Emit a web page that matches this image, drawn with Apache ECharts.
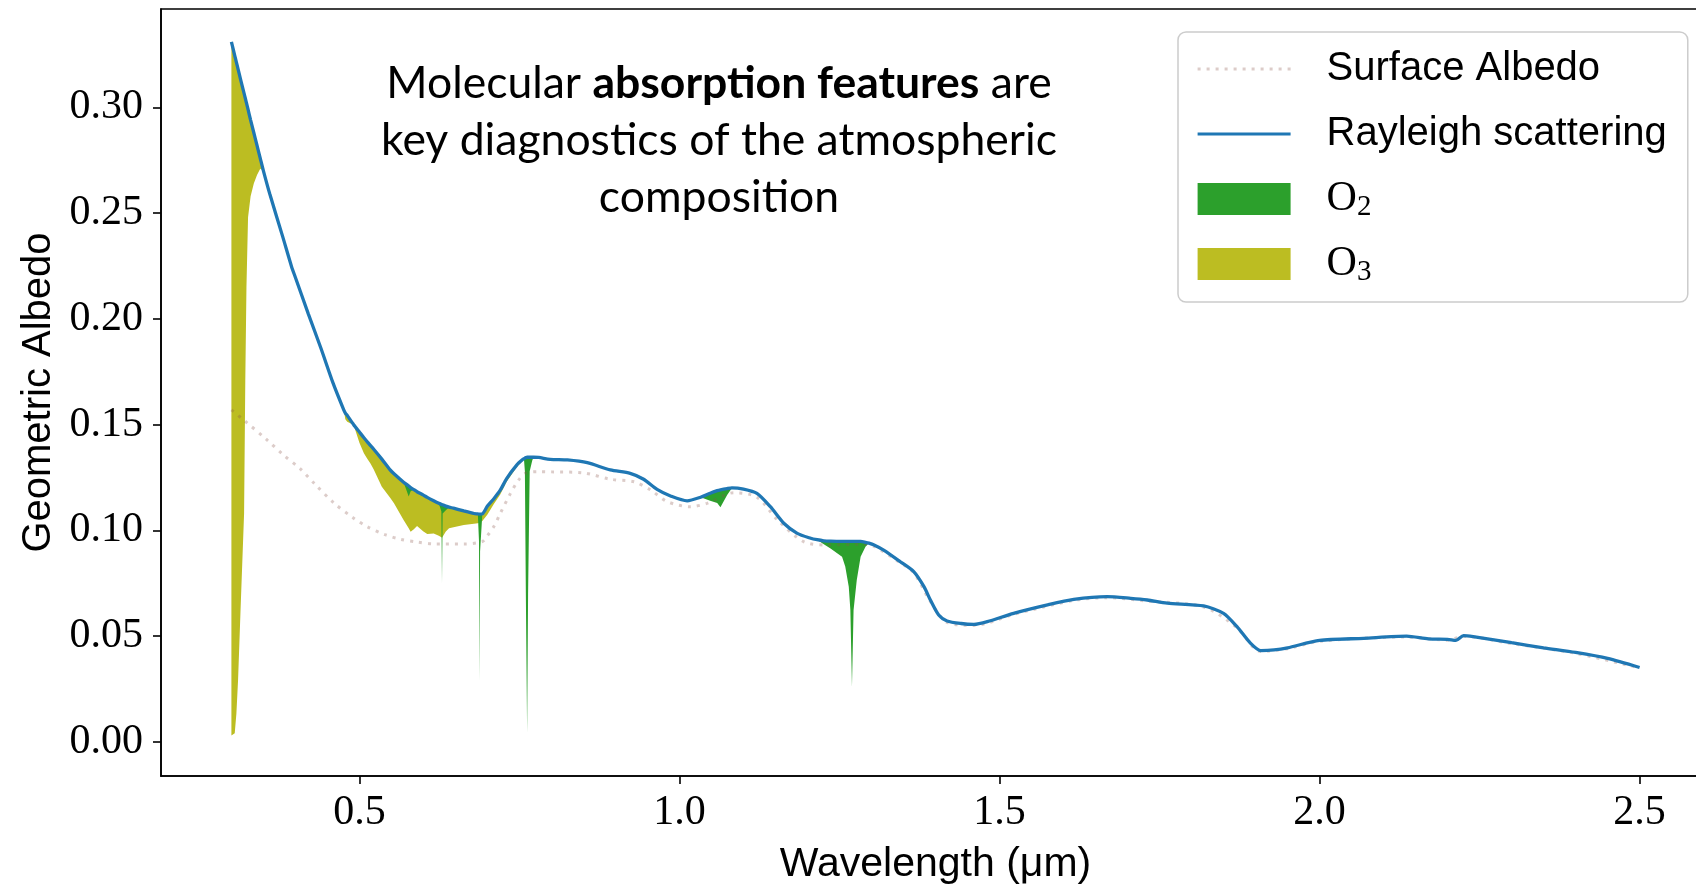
<!DOCTYPE html>
<html>
<head>
<meta charset="utf-8">
<script src="https://cdn.jsdelivr.net/npm/echarts@6/dist/echarts.min.js"></script>
<style>
  html, body { margin: 0; padding: 0; background: #ffffff; overflow: hidden; }
  #chart { width: 1720px; height: 889px; }
</style>
</head>
<body>
<div id="chart"></div>
<script>
// Wavelength grid (µm) shared by the Rayleigh continuum and the absorbed spectra
const wavelength = [
  0.300, 0.3052, 0.3078, 0.3104, 0.3141, 0.3198, 0.3217, 0.3235, 0.326, 0.330,
  0.335, 0.340, 0.345, 0.350, 0.360, 0.380, 0.394, 0.400, 0.420, 0.440,
  0.459, 0.4755, 0.478, 0.481, 0.491, 0.500, 0.507, 0.512, 0.517, 0.522,
  0.535, 0.548, 0.554, 0.569, 0.577, 0.580, 0.585, 0.590, 0.600, 0.606,
  0.616, 0.624, 0.628, 0.629, 0.630, 0.635, 0.640, 0.647, 0.663, 0.679,
  0.685, 0.6868, 0.6877, 0.6885, 0.692, 0.700, 0.710, 0.720, 0.730, 0.746,
  0.755, 0.757, 0.7585, 0.760, 0.762, 0.7635, 0.766, 0.770, 0.772, 0.780,
  0.798, 0.825, 0.856, 0.892, 0.923, 0.944, 0.965, 0.986, 1.012, 1.033,
  1.048, 1.059, 1.064, 1.0745, 1.082, 1.100, 1.121, 1.142, 1.163, 1.184,
  1.205, 1.215, 1.2255, 1.236, 1.254, 1.259, 1.2645, 1.267, 1.2695, 1.272,
  1.277, 1.283, 1.2906, 1.296, 1.304, 1.319, 1.345, 1.366, 1.382, 1.392,
  1.405, 1.418, 1.440, 1.460, 1.481, 1.522, 1.575, 1.616, 1.668, 1.705,
  1.731, 1.762, 1.819, 1.850, 1.871, 1.892, 1.908, 1.929, 1.950, 2.000,
  2.069, 2.136, 2.170, 2.200, 2.213, 2.225, 2.240, 2.300, 2.350, 2.400,
  2.450, 2.500
];

// Geometric albedo with Rayleigh scattering only
const rayleigh = [
  0.331, 0.3245, 0.3213, 0.3181, 0.3135, 0.3066, 0.3043, 0.3021, 0.299, 0.294,
  0.288, 0.282, 0.276, 0.270, 0.259, 0.239, 0.2247, 0.2196, 0.2025, 0.186,
  0.1695, 0.157, 0.1555, 0.1543, 0.150, 0.1465, 0.1438, 0.142, 0.1402, 0.1385,
  0.1337, 0.1286, 0.1268, 0.1228, 0.1210, 0.1202, 0.1193, 0.1183, 0.1167, 0.1156,
  0.1140, 0.1128, 0.1123, 0.1122, 0.1121, 0.1115, 0.1110, 0.1105, 0.1092, 0.1080,
  0.1078, 0.1077, 0.1077, 0.1077, 0.1078, 0.1115, 0.115, 0.119, 0.1245, 0.131,
  0.1335, 0.1339, 0.1342, 0.1344, 0.1346, 0.1346, 0.1346, 0.1346, 0.1346, 0.1345,
  0.1336, 0.1333, 0.1320, 0.1286, 0.1270, 0.1242, 0.1194, 0.1163, 0.1140, 0.1157,
  0.1176, 0.1188, 0.1192, 0.1198, 0.1201, 0.1195, 0.1175, 0.1112, 0.1034, 0.0986,
  0.0963, 0.0956, 0.0951, 0.0949, 0.0948, 0.0948, 0.0948, 0.0948, 0.0948, 0.0948,
  0.0948, 0.0948, 0.0944, 0.0940, 0.0931, 0.0907, 0.0852, 0.0805, 0.0734, 0.0671,
  0.0600, 0.0572, 0.0560, 0.0556, 0.0569, 0.0608, 0.0648, 0.0674, 0.0687, 0.0679,
  0.0671, 0.0656, 0.0643, 0.0608, 0.0545, 0.0467, 0.0432, 0.0435, 0.0445, 0.0480,
  0.0490, 0.0500, 0.0487, 0.0485, 0.0480, 0.0503, 0.0498, 0.0469, 0.0445, 0.0423,
  0.0395, 0.0352
];

// Albedo with O2 absorption (null outside the O2 bands)
const o2Spectrum = [
  null, null, null, null, null, null, null, null, null, null,
  null, null, null, null, null, null, null, null, null, null,
  null, null, null, null, null, null, null, null, null, null,
  null, null, null, 0.1228, 0.116, 0.1185, 0.1193, null, null, null,
  null, 0.1128, 0.109, 0.075, 0.108, 0.1095, 0.1110, null, null, null,
  0.1078, 0.095, 0.0293, 0.090, 0.1078, null, null, null, null, null,
  null, 0.1339, 0.128, 0.07, 0.0041, 0.07, 0.128, 0.133, 0.1346, null,
  null, null, null, null, null, null, null, null, null, 0.1157,
  0.114, 0.113, 0.111, 0.1167, 0.1201, null, null, null, null, null,
  null, 0.0956, 0.0935, 0.0915, 0.0876, 0.0829, 0.0734, 0.0624, 0.026, 0.0624,
  0.0766, 0.0876, 0.0923, 0.0940, null, null, null, null, null, null,
  null, null, null, null, null, null, null, null, null, null,
  null, null, null, null, null, null, null, null, null, null,
  null, null, null, null, null, null, null, null, null, null,
  null, null
];

// Albedo with O3 absorption (null outside the O3 bands)
const o3Spectrum = [
  0.003, 0.0041, 0.0135, 0.0293, 0.0608, 0.108, 0.171, 0.215, 0.248, 0.258,
  0.264, 0.268, 0.271, 0.270, null, null, null, null, null, null,
  null, 0.157, 0.1525, 0.1514, 0.1498, 0.1415, 0.1365, 0.134, 0.1317, 0.129,
  0.1207, 0.1155, 0.1128, 0.1049, 0.1010, 0.0994, 0.1005, 0.1021, 0.0995, 0.0983,
  0.0986, 0.0975, 0.0968, 0.0965, 0.097, 0.0995, 0.1010, 0.1015, 0.1026, 0.1032,
  0.1034, 0.1036, 0.1038, 0.104, 0.1045, 0.1075, 0.1125, 0.117, 0.123, 0.130,
  0.1328, 0.1339, null, null, null, null, null, null, null, null,
  null, null, null, null, null, null, null, null, null, null,
  null, null, null, null, null, null, null, null, null, null,
  null, null, null, null, null, null, null, null, null, null,
  null, null, null, null, null, null, null, null, null, null,
  null, null, null, null, null, null, null, null, null, null,
  null, null, null, null, null, null, null, null, null, null,
  null, null, null, null, null, null, null, null, null, null,
  null, null
];

// Surface albedo (own wavelength sampling)
const surfaceWavelength = [
  0.300, 0.320, 0.356, 0.380, 0.408, 0.430, 0.460, 0.490, 0.512, 0.540,
  0.564, 0.590, 0.616, 0.663, 0.692, 0.700, 0.710, 0.720, 0.736, 0.748,
  0.759, 0.780, 0.800, 0.850, 0.892, 0.929, 0.955, 0.981, 1.017, 1.043,
  1.085, 1.121, 1.153, 1.194, 1.231, 1.283, 1.304, 1.345, 1.366, 1.392,
  1.418, 1.460, 1.522, 1.616, 1.668, 1.731, 1.819, 1.871, 1.908, 1.950,
  2.000, 2.136, 2.200, 2.225, 2.300, 2.400, 2.500
];
const surfaceAlbedo = [
  0.157, 0.152, 0.1427, 0.136, 0.129, 0.122, 0.113, 0.106, 0.1018, 0.098,
  0.0958, 0.0945, 0.0936, 0.0936, 0.0947, 0.0975, 0.1018, 0.108, 0.1175, 0.1235,
  0.127, 0.1278, 0.1277, 0.1272, 0.1242, 0.1230, 0.1191, 0.1136, 0.1112, 0.1128,
  0.1178, 0.1157, 0.1050, 0.0947, 0.0931, 0.0935, 0.0924, 0.0847, 0.0800, 0.0664,
  0.0565, 0.0551, 0.0603, 0.0669, 0.0682, 0.0666, 0.0638, 0.0540, 0.0428, 0.0441,
  0.0476, 0.0496, 0.0481, 0.0499, 0.0465, 0.0419, 0.0349
];

const xTicks = [0.5, 1.0, 1.5, 2.0, 2.5];
const yTicks = [0.00, 0.05, 0.10, 0.15, 0.20, 0.25, 0.30];

const SANS = 'Liberation Sans';
const SERIF = 'Liberation Serif';
const BLUE = '#1f77b4';
const GREEN = '#2ca02c';
const OLIVE = '#bcbd22';
const SURFACE = 'rgba(140,86,75,0.3)';

// Filled region between the Rayleigh continuum and an absorbed spectrum,
// one polygon per contiguous absorption band.
function bandFill(name, color, absorbed, z) {
  return {
    name: name,
    type: 'custom',
    coordinateSystem: 'cartesian2d',
    z: z,
    silent: true,
    itemStyle: { color: color },
    data: [[wavelength[0], rayleigh[0]]],
    renderItem: function (params, api) {
      const children = [];
      let run = [];
      const flush = function () {
        if (run.length > 1) {
          const upper = run.map(i => api.coord([wavelength[i], rayleigh[i]]));
          const lower = run.slice().reverse().map(i => api.coord([wavelength[i], absorbed[i]]));
          children.push({
            type: 'polygon',
            shape: { points: upper.concat(lower) },
            style: { fill: color, stroke: null }
          });
        }
        run = [];
      };
      absorbed.forEach((v, i) => { if (v == null) flush(); else run.push(i); });
      flush();
      return { type: 'group', children: children };
    }
  };
}

const chart = echarts.init(document.getElementById('chart'), null, { renderer: 'canvas' });

chart.setOption({
  animation: false,
  backgroundColor: '#ffffff',
  grid: {
    left: 161, top: 9, width: 1549, height: 767,
    outerBoundsMode: 'none', containLabel: false,
    show: true, borderColor: '#000000', borderWidth: 1.6, backgroundColor: 'transparent'
  },
  xAxis: {
    type: 'value', min: 0.19, max: 2.61,
    name: 'Wavelength (μm)', nameLocation: 'middle', nameGap: 68,
    nameTextStyle: { fontFamily: SANS, fontSize: 41, color: '#000000' },
    axisLine: { show: true, onZero: false, lineStyle: { color: '#000000', width: 1.6 } },
    axisTick: { show: true, length: 8, customValues: xTicks, lineStyle: { color: '#000000', width: 1.6 } },
    axisLabel: {
      customValues: xTicks, margin: 16,
      fontFamily: SERIF, fontSize: 42, color: '#000000',
      formatter: v => v.toFixed(1)
    },
    splitLine: { show: false }
  },
  yAxis: {
    type: 'value', min: -0.0161, max: 0.3465,
    name: 'Geometric Albedo', nameLocation: 'middle', nameGap: 102,
    nameTextStyle: { fontFamily: SANS, fontSize: 40, color: '#000000' },
    axisLine: { show: true, onZero: false, lineStyle: { color: '#000000', width: 1.6 } },
    axisTick: { show: true, length: 8, customValues: yTicks, lineStyle: { color: '#000000', width: 1.6 } },
    axisLabel: {
      customValues: yTicks, margin: 18,
      fontFamily: SERIF, fontSize: 42, color: '#000000',
      formatter: v => v.toFixed(2)
    },
    splitLine: { show: false }
  },
  legend: {
    orient: 'vertical', left: 1178, top: 32,
    padding: [14, 21, 15, 18], itemGap: 19, itemWidth: 93, itemHeight: 32,
    backgroundColor: 'rgba(255,255,255,0.8)', borderColor: '#cccccc', borderWidth: 1.5, borderRadius: 8,
    textStyle: {
      fontFamily: SANS, fontSize: 40, color: '#000000', lineHeight: 46, padding: [0, 0, 0, 31],
      rich: {
        o: { fontFamily: SERIF, fontSize: 42, lineHeight: 46, color: '#000000' },
        s: { fontFamily: SERIF, fontSize: 29, verticalAlign: 'bottom', color: '#000000' }
      }
    },
    data: [
      { name: 'Surface Albedo', itemStyle: { opacity: 0 }, lineStyle: { width: 3 } },
      { name: 'Rayleigh scattering', itemStyle: { opacity: 0 }, lineStyle: { width: 3.2 } },
      { name: 'O₂', icon: 'rect' },
      { name: 'O₃', icon: 'rect' }
    ],
    formatter: n => n === 'O₂' ? '{o|O}{s|2}' : (n === 'O₃' ? '{o|O}{s|3}' : n)
  },
  graphic: [{
    type: 'text', x: 719, y: 55, z: 10,
    style: {
      text: '{n|Molecular }{b|absorption features}{n| are}\n{n|key diagnostics of the atmospheric}\n{n|composition}',
      align: 'center', verticalAlign: 'top',
      rich: {
        n: { fontFamily: 'Lato', fontSize: 44.5, lineHeight: 57, fill: '#000000' },
        b: { fontFamily: 'Lato', fontSize: 44.5, lineHeight: 57, fontWeight: 'bold', fill: '#000000' }
      }
    }
  }],
  series: [
    bandFill('O₃', OLIVE, o3Spectrum, 2),
    bandFill('O₂', GREEN, o2Spectrum, 3),
    {
      name: 'Surface Albedo', type: 'line', z: 4,
      data: surfaceWavelength.map((w, i) => [w, surfaceAlbedo[i]]),
      symbol: 'none', smooth: 0.3,
      lineStyle: { color: SURFACE, width: 3, type: [3, 6] },
      itemStyle: { color: SURFACE }
    },
    {
      name: 'Rayleigh scattering', type: 'line', z: 5,
      data: wavelength.map((w, i) => [w, rayleigh[i]]),
      symbol: 'none', smooth: 0.25,
      lineStyle: { color: BLUE, width: 3.3 },
      itemStyle: { color: BLUE }
    }
  ]
});
</script>
</body>
</html>
